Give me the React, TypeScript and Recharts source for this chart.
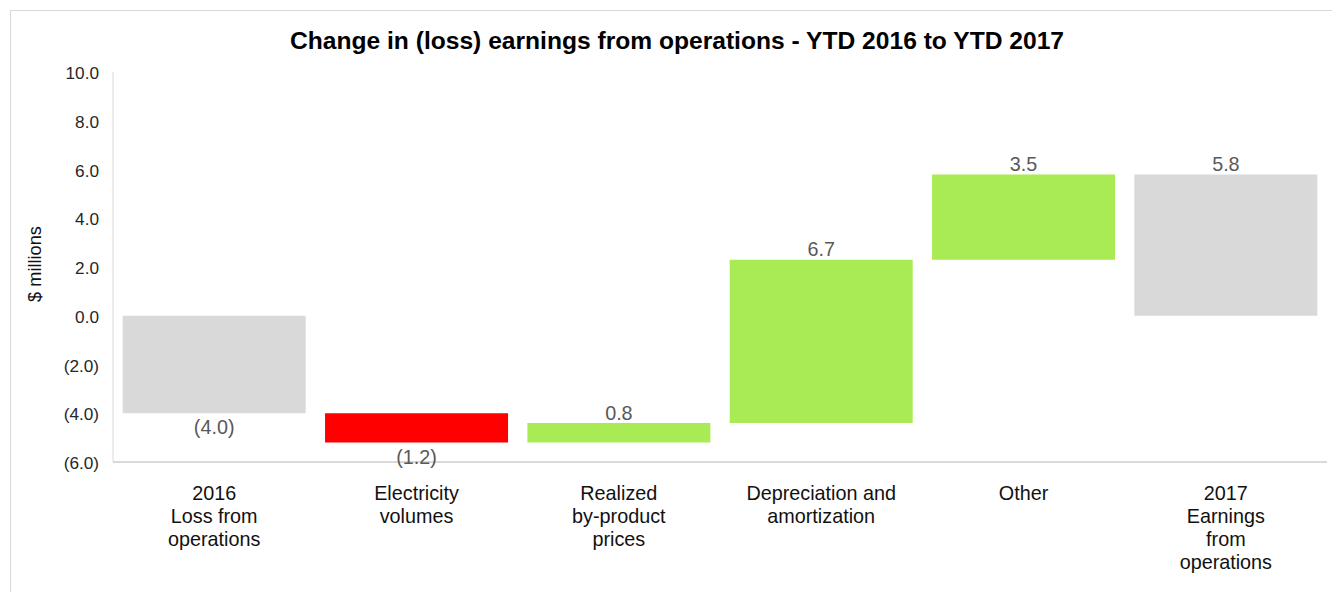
import React from 'react';
import { BarChart, Bar, XAxis, YAxis, Cell, LabelList } from 'recharts';

const categories = [
  '2016\nLoss from\noperations',
  'Electricity\nvolumes',
  'Realized\nby-product\nprices',
  'Depreciation and\namortization',
  'Other',
  '2017\nEarnings\nfrom\noperations',
];
const changes = [-4.0, -1.2, 0.8, 6.7, 3.5, 5.8];
const kinds = ['total', 'delta', 'delta', 'delta', 'delta', 'total'];
const yTicks = [-6, -4, -2, 0, 2, 4, 6, 8, 10];

const COLORS: Record<string, string> = {
  total: '#d9d9d9',
  up: '#a9eb55',
  down: '#ff0000',
};

const FONT = '"Liberation Sans", Arial, sans-serif';

const fmt = (v: number) => (v < 0 ? `(${Math.abs(v).toFixed(1)})` : v.toFixed(1));

const data = (() => {
  let run = 0;
  return categories.map((name, i) => {
    const v = changes[i];
    let lo: number;
    let hi: number;
    if (kinds[i] === 'total') {
      lo = Math.min(0, v);
      hi = Math.max(0, v);
      run = v;
    } else {
      const next = run + v;
      lo = Math.min(run, next);
      hi = Math.max(run, next);
      run = next;
    }
    const color = kinds[i] === 'total' ? COLORS.total : v >= 0 ? COLORS.up : COLORS.down;
    return { name, range: [lo, hi], value: v, color };
  });
})();

const XTick = (props: any) => {
  const { x, y, payload } = props;
  const lines = String(payload.value).split('\n');
  return (
    <text x={x} y={y} textAnchor="middle" fontFamily={FONT} fontSize={19.8} fill="#111">
      {lines.map((l, i) => (
        <tspan key={i} x={x} y={y + 30 + i * 23}>
          {l}
        </tspan>
      ))}
    </text>
  );
};

const YTick = (props: any) => {
  const { x, y, payload } = props;
  return (
    <text x={x} y={y + 7} textAnchor="end" fontFamily={FONT} fontSize={17.2} fill="#262626">
      {fmt(payload.value)}
    </text>
  );
};

const ValueLabel = (props: any) => {
  const { x, y, width, height, index } = props;
  const v = changes[index];
  const cx = x + width / 2;
  const top = Math.min(y, y + height);
  const bottom = Math.max(y, y + height);
  const ty = v < 0 ? bottom + 21 : top - 3.5;
  return (
    <text x={cx} y={ty} textAnchor="middle" fontFamily={FONT} fontSize={19.8} fill="#595959">
      {fmt(v)}
    </text>
  );
};

export default function App() {
  return (
    <div style={{ position: 'absolute', left: 0, top: 0, width: 1332, height: 592, overflow: 'hidden', background: '#fff' }}>
      <div
        style={{
          position: 'absolute',
          left: 10,
          top: 10,
          width: 1340,
          height: 600,
          border: '1px solid #d9d9d9',
          boxSizing: 'border-box',
        }}
      />
      <svg style={{ position: 'absolute', left: 0, top: 0 }} width={1332} height={592}>
        <text x={677} y={48.5} textAnchor="middle" fontFamily={FONT} fontSize={24.6} fontWeight="bold" fill="#000">
          Change in (loss) earnings from operations - YTD 2016 to YTD 2017
        </text>
        <text
          x={41}
          y={264}
          textAnchor="middle"
          fontFamily={FONT}
          fontSize={18.2}
          fill="#111"
          transform="rotate(-90 41 264)"
        >
          $ millions
        </text>
      </svg>
      <div style={{ position: 'absolute', left: 0, top: 0 }}>
        <BarChart
          width={1332}
          height={592}
          data={data}
          margin={{ top: 72, right: 5, bottom: 0, left: 0 }}
          barCategoryGap="4.8%"
        >
          <XAxis
            dataKey="name"
            axisLine={{ stroke: '#d9d9d9', strokeWidth: 2 }}
            tickLine={false}
            tick={<XTick />}
            interval={0}
            height={130}
          />
          <YAxis
            domain={[-6, 10]}
            ticks={yTicks}
            width={113}
            axisLine={{ stroke: '#d9d9d9', strokeWidth: 1 }}
            tickLine={false}
            tickSize={0}
            tickMargin={14}
            tick={<YTick />}
            allowDataOverflow
          />
          <Bar dataKey="range" isAnimationActive={false}>
            {data.map((d, i) => (
              <Cell key={i} fill={d.color} />
            ))}
            <LabelList dataKey="value" content={<ValueLabel />} />
          </Bar>
        </BarChart>
      </div>
    </div>
  );
}
